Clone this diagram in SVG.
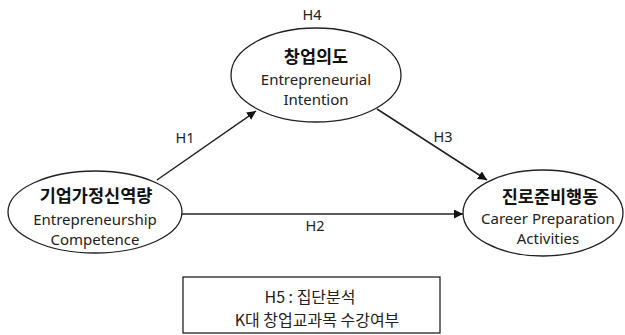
<svg xmlns="http://www.w3.org/2000/svg" width="625" height="335" viewBox="0 0 625 335">
<style>
.node{fill:#fff;stroke:#222;stroke-width:1.3}
.ko{font-family:"Noto Sans CJK KR","Noto Sans",sans-serif;font-weight:bold;font-size:17.5px;fill:#111;text-anchor:middle}
.en{font-family:"Noto Sans","Noto Sans CJK KR",sans-serif;font-size:15px;fill:#222;text-anchor:middle}
.lbl{font-family:"Noto Sans","Noto Sans CJK KR",sans-serif;font-size:14.5px;fill:#222;text-anchor:middle}
.box{font-family:"Noto Sans CJK KR","Noto Sans",sans-serif;font-size:16px;fill:#222;text-anchor:middle}
.edge{stroke:#222;stroke-width:1.5;fill:none;marker-end:url(#arr)}
</style>
<defs>
<marker id="arr" viewBox="0 0 10 10" refX="10" refY="5" markerWidth="9" markerHeight="9" markerUnits="userSpaceOnUse" orient="auto">
<path d="M0,0 L10,5 L0,10 z" fill="#111"/>
</marker>
</defs>
<rect width="625" height="335" fill="#fff"/>
<g id="connectors">
<line class="edge" x1="157" y1="180" x2="256" y2="111"/>
<line class="edge" x1="377" y1="109" x2="487" y2="180"/>
<line class="edge" x1="182" y1="214" x2="463" y2="214"/>
</g>
<g id="labels">
<text class="lbl" x="312" y="20">H4</text>
<text class="lbl" x="185" y="143">H1</text>
<text class="lbl" x="443" y="142">H3</text>
<text class="lbl" x="315" y="231">H2</text>
</g>
<g id="n1">
<ellipse class="node" cx="95" cy="212" rx="87" ry="41"/>
<text class="ko" x="96" y="202">기업가정신역량</text>
<text class="en" x="95" y="225">Entrepreneurship</text>
<text class="en" x="95" y="245">Competence</text>
</g>
<g id="n2">
<ellipse class="node" cx="316" cy="75" rx="85" ry="47"/>
<text class="ko" x="316" y="63">창업의도</text>
<text class="en" x="316" y="85">Entrepreneurial</text>
<text class="en" x="316" y="105">Intention</text>
</g>
<g id="n3">
<ellipse class="node" cx="543" cy="213" rx="80" ry="43"/>
<text class="ko" x="550" y="203">진로준비행동</text>
<text class="en" x="548" y="224">Career Preparation</text>
<text class="en" x="548" y="244">Activities</text>
</g>
<g id="n4">
<rect x="183" y="277" width="257" height="56" fill="#fff" stroke="#222" stroke-width="1.3"/>
<text class="box" x="310" y="303">H5 : 집단분석</text>
<text class="box" x="317" y="326">K대 창업교과목 수강여부</text>
</g>
</svg>
